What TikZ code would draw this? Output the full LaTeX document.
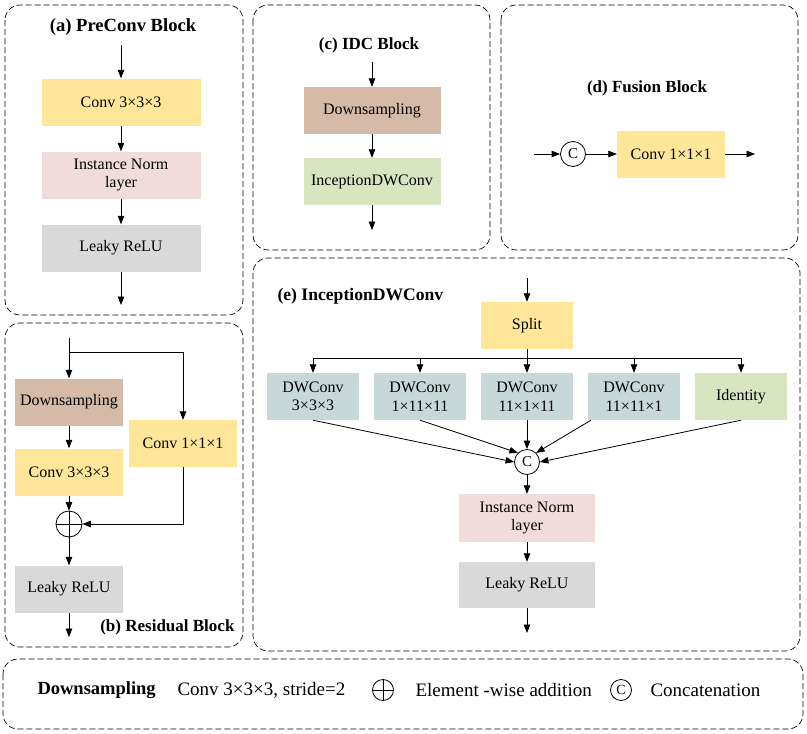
\documentclass[tikz,border=0pt]{standalone}
\usepackage{fontspec}
\setmainfont{Liberation Serif}
\usetikzlibrary{arrows.meta,calc}
\definecolor{convyellow}{HTML}{FFE699}
\definecolor{normpink}{HTML}{F2DCDB}
\definecolor{relugray}{HTML}{D9D9D9}
\definecolor{downbrown}{HTML}{D5BAA7}
\definecolor{incgreen}{HTML}{D9E4C1}
\definecolor{dwteal}{HTML}{C6D9D8}
\tikzset{
  blk/.style={fill=#1, minimum width=92pt, minimum height=47pt, inner sep=0pt,
    align=center, font=\fontsize{16}{18.5}\selectfont},
  panel/.style={draw, dash pattern=on 6pt off 3pt, rounded corners=15pt, line width=0.7pt},
  flow/.style={-{Triangle[length=8.5pt,width=6.5pt]}, line width=0.8pt},
  cat/.style={circle, draw, line width=0.8pt, minimum size=25pt, inner sep=0pt,
    font=\fontsize{15}{15}\selectfont},
  addc/.style={circle, draw, line width=0.8pt, minimum size=26pt, inner sep=0pt},
  ttl/.style={font=\bfseries\fontsize{17}{20}\selectfont},
  lgd/.style={anchor=west, font=\fontsize{19}{22}\selectfont}
}
\begin{document}
\begin{tikzpicture}[x=1pt,y=-1pt]
\useasboundingbox (0,0) rectangle (807,734);
% panel frames
\draw[panel] (5,5) rectangle (243,315);
\draw[panel] (5,323) rectangle (243,647);
\draw[panel] (253,5) rectangle (490,250);
\draw[panel] (501,5) rectangle (798,250);
\draw[panel] (253,258) rectangle (800,651);
\draw[panel] (3,659) rectangle (803,729);

% (a) PreConv Block
\node[ttl, font=\bfseries\fontsize{18.6}{20}\selectfont] (ta) at (123,27) {(a) PreConv Block};
\coordinate (ina) at (121,45);
\node[blk=convyellow, minimum width=159pt] (a1) at (121,102) {Conv 3×3×3};
\node[blk=normpink, minimum width=159pt] (a2) at (121,175) {Instance Norm\\layer};
\node[blk=relugray, minimum width=159pt] (a3) at (121,248) {Leaky ReLU};
\coordinate (outa) at (121,305);
\draw[flow] (ina) -- (a1);
\draw[flow] (a1) -- (a2);
\draw[flow] (a2) -- (a3);
\draw[flow] (a3) -- (outa);

% (b) Residual Block
\coordinate (inb) at (69,338);
\coordinate (forkb) at (69,352);
\node[blk=downbrown, minimum width=108pt] (b1) at (69,402) {Downsampling};
\node[blk=convyellow, minimum width=108pt] (b2) at (69,472) {Conv 3×3×3};
\node[blk=convyellow, minimum width=108pt] (b3) at (183,443.5) {Conv 1×1×1};
\node[addc] (plus) at (69,524) {};
\draw[line width=0.8pt] (plus.north) -- (plus.south) (plus.west) -- (plus.east);
\node[blk=relugray, minimum width=108pt] (b4) at (69,589) {Leaky ReLU};
\coordinate (outb) at (69,637);
\draw[flow] (inb) -- (b1);
\draw[flow] (forkb) -| (b3);
\draw[flow] (b1) -- (b2);
\draw[flow] (b2) -- (plus);
\draw[flow] (b3) |- (plus);
\draw[flow] (plus) -- (b4);
\draw[flow] (b4) -- (outb);
\node[ttl, anchor=east] (tb) at (238,627) {(b) Residual Block};

% (c) IDC Block
\node[ttl] (tc) at (369,45) {(c) IDC Block};
\coordinate (inc) at (372,62);
\node[blk=downbrown, minimum width=137pt] (c1) at (372,110.5) {Downsampling};
\node[blk=incgreen, minimum width=137pt] (c2) at (372,181.5) {InceptionDWConv};
\coordinate (outc) at (372,230);
\draw[flow] (inc) -- (c1);
\draw[flow] (c1) -- (c2);
\draw[flow] (c2) -- (outc);

% (d) Fusion Block
\node[ttl] (td) at (647,88) {(d) Fusion Block};
\coordinate (ind) at (534,154);
\node[cat] (dc) at (573,154) {C};
\node[blk=convyellow, minimum width=108pt] (d1) at (671,154) {Conv 1×1×1};
\coordinate (outd) at (755,154);
\draw[flow] (ind) -- (dc);
\draw[flow] (dc) -- (d1);
\draw[flow] (d1) -- (outd);

% (e) InceptionDWConv
\node[ttl, font=\bfseries\fontsize{17.6}{20}\selectfont, anchor=west] (te) at (274,296) {(e) InceptionDWConv};
\coordinate (ine) at (527,278);
\node[blk=convyellow] (split) at (527,325.5) {Split};
\coordinate (forke) at (527,358);
\node[blk=dwteal] (dw1) at (313,396.5) {DWConv\\3×3×3};
\node[blk=dwteal] (dw2) at (420,396.5) {DWConv\\1×11×11};
\node[blk=dwteal] (dw3) at (527,396.5) {DWConv\\11×1×11};
\node[blk=dwteal] (dw4) at (634,396.5) {DWConv\\11×11×1};
\node[blk=incgreen] (iden) at (741,396.5) {Identity};
\node[cat] (ec) at (527,462) {C};
\node[blk=normpink, minimum width=136pt, minimum height=48pt] (e1) at (527,518) {Instance Norm\\layer};
\node[blk=relugray, minimum width=136pt, minimum height=46pt] (e2) at (527,585) {Leaky ReLU};
\coordinate (oute) at (527,633);
\draw[flow] (ine) -- (split);
\draw[line width=0.8pt] (split) -- (forke);
\foreach \b in {dw1,dw2,dw3,dw4,iden}
  \draw[flow] (forke) -| (\b.north);
\draw[flow] (dw1.south) -- (ec.west);
\draw[flow] (dw2.south) -- (ec.north west);
\draw[flow] (dw3.south) -- (ec.north);
\draw[flow] ($(dw4.south)+(-43,0)$) -- (ec.north east);
\draw[flow] (iden.south) -- (ec.east);
\draw[flow] (ec) -- (e1);
\draw[flow] (e1) -- (e2);
\draw[flow] (e2) -- (oute);

% legend
\node[lgd, font=\bfseries\fontsize{18.5}{22}\selectfont] (lg1) at (34,690) {Downsampling};
\node[lgd] (lg2) at (174,690) {Conv 3×3×3, stride=2};
\node[addc, minimum size=21pt] (lgp) at (383,690) {};
\draw[line width=0.8pt] (lgp.north) -- (lgp.south) (lgp.west) -- (lgp.east);
\node[lgd] (lg3) at (412,690) {Element -wise addition};
\node[cat, minimum size=21pt, font=\fontsize{14}{14}\selectfont] (lgc) at (621,690) {C};
\node[lgd] (lg4) at (647,690) {Concatenation};
\end{tikzpicture}
\end{document}
